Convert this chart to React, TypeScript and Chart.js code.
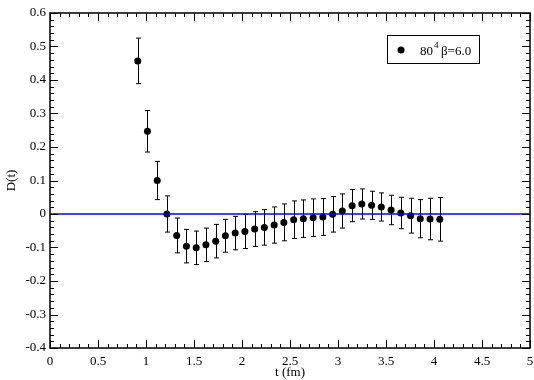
import React, { useEffect, useRef } from "react";
import { Chart, registerables } from "chart.js";

Chart.register(...registerables);

// t (fm)
const tValues = [
  0.914, 1.015, 1.117, 1.218, 1.32, 1.421, 1.523, 1.624, 1.726, 1.827, 1.929,
  2.03, 2.132, 2.233, 2.335, 2.436, 2.538, 2.639, 2.741, 2.842, 2.944, 3.045,
  3.147, 3.248, 3.35, 3.451, 3.553, 3.654, 3.756, 3.857, 3.959, 4.06,
];
// D(t)
const dValues = [
  0.457, 0.247, 0.1, 0.0, -0.064, -0.096, -0.101, -0.092, -0.081, -0.065,
  -0.057, -0.052, -0.045, -0.04, -0.033, -0.025, -0.017, -0.014, -0.011,
  -0.009, -0.001, 0.009, 0.025, 0.03, 0.026, 0.021, 0.012, 0.003, -0.005,
  -0.014, -0.015, -0.016,
];
// error on D(t)
const dErrors = [
  0.068, 0.062, 0.057, 0.054, 0.052, 0.05, 0.05, 0.05, 0.05, 0.049, 0.05,
  0.051, 0.052, 0.053, 0.054, 0.055, 0.056, 0.056, 0.056, 0.055, 0.053, 0.051,
  0.048, 0.045, 0.042, 0.042, 0.044, 0.047, 0.052, 0.057, 0.062, 0.065,
];
const xRange = [0, 5];
const yRange = [-0.4, 0.6];
const xMajorStep = 0.5;
const xMinorStep = 0.1;
const yMajorStep = 0.1;
const yMinorStep = 0.02;
const zeroLine = [0, 0];
const legendLabel = { base: "80", sup: "4", rest: "β=6.0" };

const FONT = "'Liberation Serif', 'DejaVu Serif', serif";

const errorBarPlugin = {
  id: "errorBars",
  beforeDatasetsDraw(chart: any) {
    const ctx = chart.ctx;
    const xs = chart.scales.x;
    const ys = chart.scales.y;
    ctx.save();
    ctx.strokeStyle = "#000";
    ctx.lineWidth = 1;
    for (let i = 0; i < tValues.length; i++) {
      const px = Math.round(xs.getPixelForValue(tValues[i])) + 0.5;
      const top = ys.getPixelForValue(dValues[i] + dErrors[i]);
      const bot = ys.getPixelForValue(dValues[i] - dErrors[i]);
      ctx.beginPath();
      ctx.moveTo(px, top);
      ctx.lineTo(px, bot);
      ctx.moveTo(px - 2.5, top);
      ctx.lineTo(px + 2.5, top);
      ctx.moveTo(px - 2.5, bot);
      ctx.lineTo(px + 2.5, bot);
      ctx.stroke();
    }
    ctx.restore();
  },
};

const framePlugin = {
  id: "frameTicks",
  afterDraw(chart: any) {
    const ctx = chart.ctx;
    const { left, right, top, bottom } = chart.chartArea;
    const xs = chart.scales.x;
    const ys = chart.scales.y;
    ctx.save();
    ctx.strokeStyle = "#000";
    ctx.lineWidth = 1.5;
    ctx.strokeRect(left, top, right - left, bottom - top);
    ctx.lineWidth = 1;
    ctx.beginPath();
    const nx = Math.round((xRange[1] - xRange[0]) / xMinorStep);
    for (let i = 0; i <= nx; i++) {
      const v = xRange[0] + i * xMinorStep;
      const major = Math.abs(v / xMajorStep - Math.round(v / xMajorStep)) < 1e-6;
      const len = major ? 8 : 4;
      const px = Math.round(xs.getPixelForValue(v)) + 0.5;
      ctx.moveTo(px, bottom);
      ctx.lineTo(px, bottom - len);
      ctx.moveTo(px, top);
      ctx.lineTo(px, top + len);
    }
    const ny = Math.round((yRange[1] - yRange[0]) / yMinorStep);
    for (let i = 0; i <= ny; i++) {
      const v = yRange[0] + i * yMinorStep;
      const major = Math.abs(v / yMajorStep - Math.round(v / yMajorStep)) < 1e-6;
      const len = major ? 8 : 4;
      const py = Math.round(ys.getPixelForValue(v)) + 0.5;
      ctx.moveTo(left, py);
      ctx.lineTo(left + len, py);
      ctx.moveTo(right, py);
      ctx.lineTo(right - len, py);
    }
    ctx.stroke();

    // legend box
    const bx = right - 143;
    const by = top + 22;
    const bw = 92;
    const bh = 28;
    ctx.lineWidth = 1;
    ctx.fillStyle = "#fff";
    ctx.fillRect(bx, by, bw, bh);
    ctx.strokeRect(bx + 0.5, by + 0.5, bw, bh);
    ctx.fillStyle = "#000";
    ctx.beginPath();
    ctx.arc(bx + 14, by + 15, 3.5, 0, Math.PI * 2);
    ctx.fill();
    ctx.textBaseline = "alphabetic";
    ctx.textAlign = "left";
    ctx.font = `13px ${FONT}`;
    let tx = bx + 33;
    const ty = by + 20;
    ctx.fillText(legendLabel.base, tx, ty);
    tx += ctx.measureText(legendLabel.base).width + 1;
    ctx.font = `9px ${FONT}`;
    ctx.fillText(legendLabel.sup, tx, ty - 7);
    tx += ctx.measureText(legendLabel.sup).width + 2.5;
    ctx.font = `13px ${FONT}`;
    ctx.fillText(legendLabel.rest, tx, ty);
    ctx.restore();
  },
};

const fmt = (v: any) => String(Math.round(Number(v) * 100) / 100);

export default function App() {
  const ref = useRef<HTMLCanvasElement | null>(null);
  useEffect(() => {
    document.body.style.margin = "0";
    if (!ref.current) return;
    const chart = new Chart(ref.current, {
      type: "scatter",
      data: {
        datasets: [
          {
            type: "line",
            data: xRange.map((x, i) => ({ x, y: zeroLine[i] })),
            borderColor: "#0000ff",
            borderWidth: 1.3,
            pointRadius: 0,
            fill: false,
          },
          {
            data: tValues.map((t, i) => ({ x: t, y: dValues[i] })),
            backgroundColor: "#000",
            borderColor: "#000",
            pointRadius: 3.5,
            pointBorderWidth: 0,
          },
        ],
      },
      options: {
        responsive: false,
        animation: false,
        events: [],
        layout: { padding: { top: 13, right: 3, left: 0, bottom: 0 } },
        plugins: { legend: { display: false }, tooltip: { enabled: false } },
        scales: {
          x: {
            type: "linear",
            min: xRange[0],
            max: xRange[1],
            grid: { display: false, drawTicks: false },
            border: { display: false },
            afterFit: (s: any) => {
              s.height = 32;
              s.paddingLeft = 0;
              s.paddingRight = 0;
            },
            ticks: {
              stepSize: xMajorStep,
              callback: fmt,
              color: "#000",
              font: { family: FONT, size: 13 },
              padding: 6,
              maxRotation: 0,
              autoSkip: false,
            },
            title: {
              display: true,
              text: "t (fm)",
              color: "#000",
              font: { family: FONT, size: 13 },
              padding: { top: 0, bottom: 0 },
            },
          },
          y: {
            type: "linear",
            min: yRange[0],
            max: yRange[1],
            grid: { display: false, drawTicks: false },
            border: { display: false },
            afterFit: (s: any) => {
              s.width = 50;
              s.paddingTop = 0;
              s.paddingBottom = 0;
            },
            ticks: {
              stepSize: yMajorStep,
              callback: fmt,
              color: "#000",
              font: { family: FONT, size: 13 },
              padding: 4,
              autoSkip: false,
            },
            title: {
              display: true,
              text: "D(t)",
              color: "#000",
              font: { family: FONT, size: 13 },
              padding: { top: 4, bottom: 0 },
            },
          },
        },
      },
      plugins: [errorBarPlugin, framePlugin],
    } as any);
    return () => chart.destroy();
  }, []);
  return (
    <div style={{ width: 534, height: 380 }}>
      <canvas ref={ref} width={534} height={380} />
    </div>
  );
}
